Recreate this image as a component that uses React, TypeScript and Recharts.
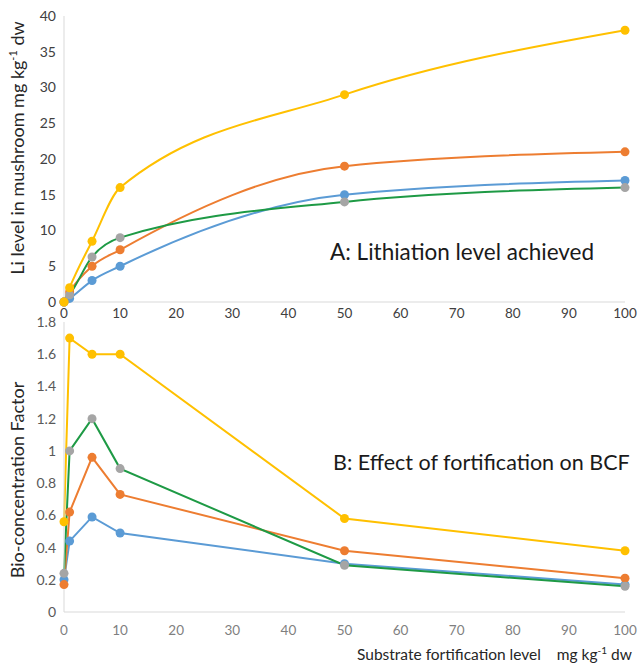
import React from "react";
import { LineChart, Line, XAxis, YAxis } from "recharts";

// substrate fortification levels (mg/kg dw)
const levels = [0, 1, 5, 10, 50, 100];
const xTicks = [0, 10, 20, 30, 40, 50, 60, 70, 80, 90, 100];

// A: Li level in mushroom
const liBlue = [0, 0.5, 3, 5, 15, 17];
const liOrange = [0, 1.4, 5, 7.3, 19, 21];
const liGray = [0, 1, 6.3, 9, 14, 16];
const liYellow = [0, 2, 8.5, 16, 29, 38];
const liTicks = [0, 5, 10, 15, 20, 25, 30, 35, 40];

// B: bio-concentration factor
const bcfBlue = [0.2, 0.44, 0.59, 0.49, 0.3, 0.17];
const bcfOrange = [0.17, 0.62, 0.96, 0.73, 0.38, 0.21];
const bcfGray = [0.24, 1.0, 1.2, 0.89, 0.29, 0.16];
const bcfYellow = [0.56, 1.7, 1.6, 1.6, 0.58, 0.38];
const bcfTicks = [0, 0.2, 0.4, 0.6, 0.8, 1, 1.2, 1.4, 1.6, 1.8];

const dataA = levels.map((x, i) => ({
  x,
  blue: liBlue[i],
  orange: liOrange[i],
  gray: liGray[i],
  yellow: liYellow[i],
}));
const dataB = levels.map((x, i) => ({
  x,
  blue: bcfBlue[i],
  orange: bcfOrange[i],
  gray: bcfGray[i],
  yellow: bcfYellow[i],
}));

const FONT = "Lato, 'Open Sans', sans-serif";
const AXIS = "#d9d9d9";

const series = [
  { key: "blue", stroke: "#5b9bd5", dot: "#5b9bd5" },
  { key: "orange", stroke: "#ed7d31", dot: "#ed7d31" },
  { key: "gray", stroke: "#1e9a45", dot: "#a5a5a5" },
  { key: "yellow", stroke: "#ffc000", dot: "#ffc000" },
];

const renderLines = (type: "monotone" | "linear") =>
  series.map((s) => (
    <Line
      key={s.key}
      type={type}
      dataKey={s.key}
      stroke={s.stroke}
      strokeWidth={2}
      dot={{ r: 4.5, fill: s.dot, stroke: "none" }}
      activeDot={false}
      isAnimationActive={false}
    />
  ));

// x tick with a fixed drop below the axis line
const xTick = (drop: number, color: string) => (props: any) => {
  const { x, payload, index } = props;
  return (
    <text
      key={index}
      x={x}
      y={props.y + drop}
      textAnchor="middle"
      fontSize={13.5}
      fill={color}
      fontFamily={FONT}
    >
      {payload.value}
    </text>
  );
};

const yLabelA = () => (
  <text
    transform="translate(24,148) rotate(-90)"
    textAnchor="middle"
    fontSize={18}
    fill="#262626"
    fontFamily={FONT}
  >
    Li level in mushroom  mg kg
    <tspan dy={-7} fontSize={11}>-1</tspan>
    <tspan dy={7}> dw</tspan>
  </text>
);

const yLabelB = () => (
  <text
    transform="translate(24,168) rotate(-90)"
    textAnchor="middle"
    fontSize={18}
    fill="#262626"
    fontFamily={FONT}
  >
    Bio-concentration Factor
  </text>
);

export default function App() {
  return (
    <div
      style={{
        position: "fixed",
        left: 0,
        top: 0,
        width: 643,
        height: 665,
        background: "#ffffff",
        fontFamily: FONT,
      }}
    >
      <div style={{ position: "absolute", left: 0, top: 0 }}>
        <LineChart
          width={643}
          height={326}
          data={dataA}
          margin={{ top: 16, right: 18, left: 0, bottom: 0 }}
        >
          <XAxis
            type="number"
            dataKey="x"
            domain={[0, 100]}
            ticks={xTicks}
            tickLine={false}
            tickSize={0}
            axisLine={{ stroke: AXIS }}
            height={24}
            tick={xTick(14, "#404040")}
          />
          <YAxis
            domain={[0, 40]}
            ticks={liTicks}
            tickLine={false}
            axisLine={{ stroke: AXIS }}
            width={64}
            tick={{ fontSize: 14, fill: "#404040", fontFamily: FONT }}
            label={{ content: yLabelA }}
          />
          {renderLines("monotone")}
        </LineChart>
      </div>
      <div style={{ position: "absolute", left: 0, top: 312 }}>
        <LineChart
          width={643}
          height={334}
          data={dataB}
          margin={{ top: 10, right: 18, left: 0, bottom: 0 }}
        >
          <XAxis
            type="number"
            dataKey="x"
            domain={[0, 100]}
            ticks={xTicks}
            tickLine={false}
            tickSize={0}
            axisLine={{ stroke: AXIS }}
            height={34}
            tick={xTick(21, "#7f7f7f")}
          />
          <YAxis
            domain={[0, 1.8]}
            ticks={bcfTicks}
            tickLine={false}
            axisLine={{ stroke: AXIS }}
            width={64}
            tick={{ fontSize: 14, fill: "#595959", fontFamily: FONT }}
            label={{ content: yLabelB }}
          />
          {renderLines("linear")}
        </LineChart>
      </div>
      <div
        style={{
          position: "absolute",
          left: 330,
          top: 238,
          fontSize: 22.5,
          color: "#1a1a1a",
          whiteSpace: "nowrap",
        }}
      >
        A: Lithiation level achieved
      </div>
      <div
        style={{
          position: "absolute",
          left: 333,
          top: 449,
          fontSize: 21.5,
          color: "#1a1a1a",
          whiteSpace: "nowrap",
        }}
      >
        B: Effect of fortification on BCF
      </div>
      <div
        style={{
          position: "absolute",
          left: 357,
          top: 644,
          fontSize: 15.5,
          color: "#262626",
          whiteSpace: "nowrap",
        }}
      >
        Substrate fortification level&nbsp;&nbsp;&nbsp; mg kg
        <sup style={{ fontSize: 10 }}>-1</sup> dw
      </div>
    </div>
  );
}
